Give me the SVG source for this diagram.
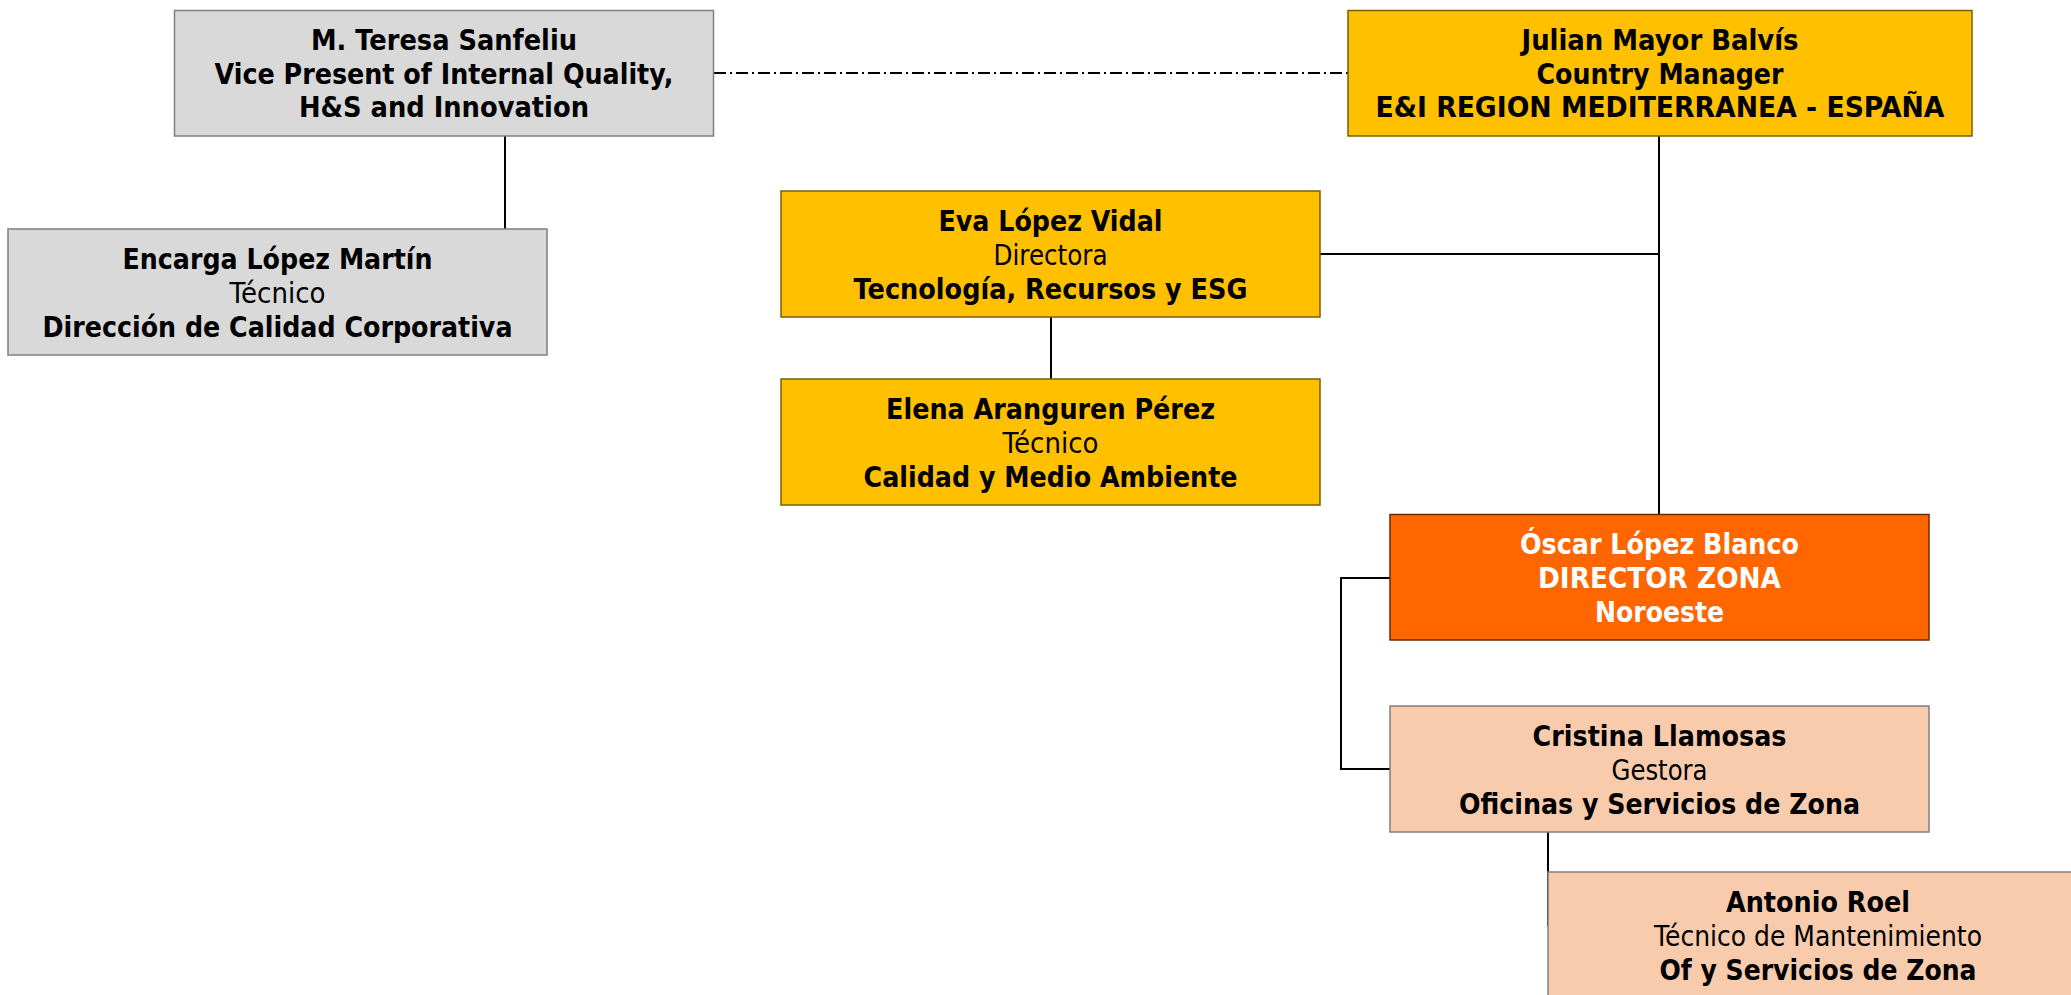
<svg xmlns="http://www.w3.org/2000/svg" width="2071" height="995" viewBox="0 0 2071 995">
<style>
.b{font-family:"DejaVu Sans","Liberation Sans",sans-serif;font-size:28.5px;font-weight:bold;text-anchor:middle;fill:#000}
.r{font-family:"DejaVu Sans","Liberation Sans",sans-serif;font-size:28.5px;font-weight:normal;text-anchor:middle;fill:#000}
.w{fill:#fff}
.gray{fill:#d9d9d9;stroke:#7f7f7f;stroke-width:1.5}
.gold{fill:#ffc000;stroke:#7a6000;stroke-width:1.5}
.orange{fill:#ff6600;stroke:#6b2a00;stroke-width:1.5}
.peach{fill:#f8cbad;stroke:#7f7f7f;stroke-width:1.5}
.c{fill:none;stroke:#000;stroke-width:2}
</style>
<rect width="2071" height="995" fill="#fff"/>
<g id="connectors">
<line class="c" x1="714" y1="73" x2="1348" y2="73" stroke-width="1.5" stroke-dasharray="12,4,2,4"/>
<line class="c" x1="505" y1="136" x2="505" y2="229"/>
<line class="c" x1="1659" y1="136" x2="1659" y2="514"/>
<line class="c" x1="1320" y1="254" x2="1659" y2="254"/>
<line class="c" x1="1051" y1="317" x2="1051" y2="379"/>
<polyline class="c" points="1390,578 1341,578 1341,769 1390,769"/>
<line class="c" x1="1548" y1="832" x2="1548" y2="926"/>
</g>
<g id="teresa">
<rect class="gray" x="174.5" y="10.5" width="539" height="125.5"/>
<text class="b" x="444" y="50" textLength="266" lengthAdjust="spacingAndGlyphs">M. Teresa Sanfeliu</text>
<text class="b" x="444" y="83.5" textLength="459" lengthAdjust="spacingAndGlyphs">Vice Present of Internal Quality,</text>
<text class="b" x="444" y="117" textLength="290" lengthAdjust="spacingAndGlyphs">H&amp;S and Innovation</text>
</g>
<g id="julian">
<rect class="gold" x="1348" y="10.5" width="624" height="125.5"/>
<text class="b" x="1660" y="50" textLength="277" lengthAdjust="spacingAndGlyphs">Julian Mayor Balvís</text>
<text class="b" x="1660" y="83.5" textLength="247" lengthAdjust="spacingAndGlyphs">Country Manager</text>
<text class="b" x="1660" y="117" textLength="569" lengthAdjust="spacingAndGlyphs">E&amp;I REGION MEDITERRANEA - ESPAÑA</text>
</g>
<g id="encarga">
<rect class="gray" x="8" y="229" width="539" height="126"/>
<text class="b" x="277.5" y="269" textLength="310" lengthAdjust="spacingAndGlyphs">Encarga López Martín</text>
<text class="r" x="277.5" y="303" textLength="96" lengthAdjust="spacingAndGlyphs">Técnico</text>
<text class="b" x="277.5" y="336.5" textLength="470" lengthAdjust="spacingAndGlyphs">Dirección de Calidad Corporativa</text>
</g>
<g id="eva">
<rect class="gold" x="781" y="191" width="539" height="126"/>
<text class="b" x="1050.5" y="231" textLength="224" lengthAdjust="spacingAndGlyphs">Eva López Vidal</text>
<text class="r" x="1050.5" y="265" textLength="114" lengthAdjust="spacingAndGlyphs">Directora</text>
<text class="b" x="1050.5" y="298.5" textLength="394" lengthAdjust="spacingAndGlyphs">Tecnología, Recursos y ESG</text>
</g>
<g id="elena">
<rect class="gold" x="781" y="379" width="539" height="126"/>
<text class="b" x="1050.5" y="419" textLength="329" lengthAdjust="spacingAndGlyphs">Elena Aranguren Pérez</text>
<text class="r" x="1050.5" y="453" textLength="96" lengthAdjust="spacingAndGlyphs">Técnico</text>
<text class="b" x="1050.5" y="486.5" textLength="374" lengthAdjust="spacingAndGlyphs">Calidad y Medio Ambiente</text>
</g>
<g id="oscar">
<rect class="orange" x="1390" y="514.5" width="539" height="125.5"/>
<text class="b w" x="1659.5" y="554" textLength="279" lengthAdjust="spacingAndGlyphs">Óscar López Blanco</text>
<text class="b w" x="1659.5" y="588" textLength="243" lengthAdjust="spacingAndGlyphs">DIRECTOR ZONA</text>
<text class="b w" x="1659.5" y="621.5" textLength="129" lengthAdjust="spacingAndGlyphs">Noroeste</text>
</g>
<g id="cristina">
<rect class="peach" x="1390" y="706" width="539" height="126"/>
<text class="b" x="1659.5" y="746" textLength="254" lengthAdjust="spacingAndGlyphs">Cristina Llamosas</text>
<text class="r" x="1659.5" y="780" textLength="96" lengthAdjust="spacingAndGlyphs">Gestora</text>
<text class="b" x="1659.5" y="813.5" textLength="401" lengthAdjust="spacingAndGlyphs">Oficinas y Servicios de Zona</text>
</g>
<g id="antonio">
<rect class="peach" x="1548" y="872" width="540" height="126"/>
<text class="b" x="1818" y="912" textLength="184" lengthAdjust="spacingAndGlyphs">Antonio Roel</text>
<text class="r" x="1818" y="946" textLength="328" lengthAdjust="spacingAndGlyphs">Técnico de Mantenimiento</text>
<text class="b" x="1818" y="979.5" textLength="317" lengthAdjust="spacingAndGlyphs">Of y Servicios de Zona</text>
</g>
</svg>
